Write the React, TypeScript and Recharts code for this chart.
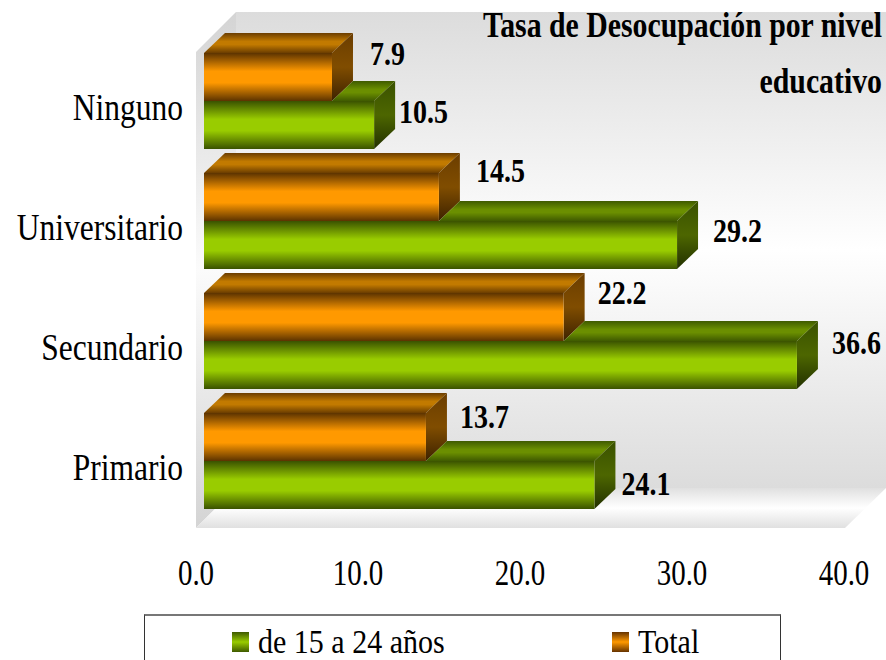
import { BarChart, Bar, XAxis, YAxis, Legend, LabelList } from "recharts";

const categories = ["Ninguno", "Universitario", "Secundario", "Primario"];
const youthValues = [10.5, 29.2, 36.6, 24.1];
const totalValues = [7.9, 14.5, 22.2, 13.7];
const xTicks = [0, 10, 20, 30, 40];
const titleLines = ["Tasa de Desocupación por nivel", "educativo"];
const youthName = "de 15 a 24 años";
const totalName = "Total";

const data = categories.map((name, i) => ({
  name,
  youth: youthValues[i],
  total: totalValues[i],
}));

const serif = "'Liberation Serif', serif";
const depthX = 21;
const depthY = 20;

// label nudges relative to the bar end, the source chart placed them by hand
const youthLabelNudge = [
  [25, -12],
  [36, -13],
  [35, -21],
  [27, 0],
];
const totalLabelNudge = [
  [38, -22],
  [37, -25],
  [34, -23],
  [34, -19],
];

function TallText({ x, y, size, bold, anchor, children }: any) {
  return (
    <text
      transform={`translate(${x},${y}) scale(1,1.22)`}
      textAnchor={anchor}
      fontFamily={serif}
      fontSize={size}
      fontWeight={bold ? 700 : 400}
      fill="#000"
    >
      {children}
    </text>
  );
}

function Box({ x, y, width, height, color, topFrom }: any) {
  const r = x + width;
  const b = y + height;
  const start = topFrom ?? x;
  const backStart = start + depthX;
  return (
    <g>
      <polygon
        points={`${start},${y} ${backStart},${y - depthY} ${r + depthX},${y - depthY} ${r},${y}`}
        fill={`url(#${color}Top)`}
      />
      <polygon
        points={`${r},${y} ${r + depthX},${y - depthY} ${r + depthX},${b - depthY} ${r},${b}`}
        fill={`url(#${color}Side)`}
      />
      <rect x={x} y={y} width={width} height={height} fill={`url(#${color}Front)`} />
    </g>
  );
}

// green is drawn after orange, so its top face starts where the orange bar ends
function YouthBar(props: any) {
  const { x, width, payload } = props;
  return <Box {...props} color="green" topFrom={x + (width * payload.total) / payload.youth} />;
}

function TotalBar(props: any) {
  return <Box {...props} color="orange" />;
}

function valueLabel(nudges: number[][]) {
  return (props: any) => {
    const { x, y, width, height, value, index } = props;
    const [dx, dy] = nudges[index];
    return (
      <TallText x={x + width + dx} y={y + height / 2 + dy + 10} size={28} bold>
        {Number(value).toFixed(1)}
      </TallText>
    );
  };
}

function CategoryTick({ y, payload }: any) {
  return (
    <TallText x={183} y={y + 19} size={31.5} anchor="end">
      {payload.value}
    </TallText>
  );
}

function ValueTick({ x, payload }: any) {
  return (
    <TallText x={x - 8} y={585} size={29} anchor="middle">
      {Number(payload.value).toFixed(1)}
    </TallText>
  );
}

function vertical(id: string, edge: string, mid: string, plateau = 0) {
  return (
    <linearGradient id={id} x1="0" y1="0" x2="0" y2="1">
      <stop offset="0%" stopColor={edge} />
      <stop offset={`${50 - plateau}%`} stopColor={mid} />
      <stop offset={`${50 + plateau}%`} stopColor={mid} />
      <stop offset="100%" stopColor={edge} />
    </linearGradient>
  );
}

function LegendBox({ payload }: any) {
  const order = [youthName, totalName];
  const items = [...(payload ?? [])].sort((a, b) => order.indexOf(a.value) - order.indexOf(b.value));
  return (
    <div
      style={{
        boxSizing: "border-box",
        width: 637,
        height: 60,
        borderTop: "2px solid #777",
        borderLeft: "1px solid #333",
        borderRight: "1px solid #333",
        position: "relative",
      }}
    >
      {items.map((item: any, i: number) => (
        <div
          key={item.value}
          style={{ position: "absolute", left: i === 0 ? 87 : 467, top: 16, height: 20, display: "flex" }}
        >
          <span
            style={{
              width: 17,
              height: 20,
              background:
                i === 0
                  ? "linear-gradient(#3f5a00,#99cc00,#3f5a00)"
                  : "linear-gradient(#663300,#ff9900,#663300)",
            }}
          />
          <span
            style={{
              marginLeft: 9,
              fontFamily: serif,
              fontSize: 30,
              lineHeight: "20px",
              whiteSpace: "nowrap",
              color: "#000",
              display: "inline-block",
              transform: "scaleY(1.12)",
            }}
          >
            {item.value}
          </span>
        </div>
      ))}
    </div>
  );
}

export default function App() {
  return (
    <div style={{ position: "absolute", left: 0, top: 0, width: 886, height: 660, overflow: "hidden", background: "#fff" }}>
      <BarChart
        width={886}
        height={660}
        data={data}
        layout="vertical"
        margin={{ top: 41, right: 34, bottom: 109, left: 0 }}
        barCategoryGap="20%"
        barGap={0}
        barSize={48}
      >
        <defs>
          {vertical("greenFront", "#3a5200", "#99cc00", 12)}
          {vertical("greenTop", "#3f5a00", "#6b8f00", 8)}
          {vertical("orangeFront", "#5c3300", "#ff9900", 12)}
          {vertical("orangeTop", "#6b3d00", "#c27a00", 8)}
          <linearGradient id="greenSide" x1="0" y1="0" x2="0" y2="1">
            <stop offset="0%" stopColor="#3a5200" />
            <stop offset="50%" stopColor="#4d6600" />
            <stop offset="100%" stopColor="#223000" />
          </linearGradient>
          <linearGradient id="orangeSide" x1="0" y1="0" x2="0" y2="1">
            <stop offset="0%" stopColor="#6b3d00" />
            <stop offset="50%" stopColor="#804d00" />
            <stop offset="100%" stopColor="#3d2200" />
          </linearGradient>
          {vertical("backWall", "#dcdcdc", "#ffffff")}
          {vertical("sideWall", "#d4d4d4", "#fbfbfb")}
          {vertical("floor", "#e0e0e0", "#ffffff")}
        </defs>

        <polygon points="236,12 886,12 886,488 236,488" fill="url(#backWall)" />
        <polygon points="196,52 236,12 236,488 196,528" fill="url(#sideWall)" />
        <polygon points="196,528 845,528 886,488 236,488" fill="url(#floor)" />

        <XAxis
          type="number"
          domain={[0, 40]}
          ticks={xTicks}
          interval={0}
          axisLine={false}
          tickLine={false}
          tick={<ValueTick />}
        />
        <YAxis
          type="category"
          dataKey="name"
          width={204}
          interval={0}
          axisLine={false}
          tickLine={false}
          tick={<CategoryTick />}
        />
        <Legend
          layout="horizontal"
          verticalAlign="middle"
          align="center"
          wrapperStyle={{ left: 144, top: 614, width: 637, height: 60 }}
          content={<LegendBox />}
        />
        <Bar dataKey="total" name={totalName} fill="#ff9900" shape={<TotalBar />} isAnimationActive={false}>
          <LabelList dataKey="total" content={valueLabel(totalLabelNudge)} />
        </Bar>
        <Bar dataKey="youth" name={youthName} fill="#99cc00" shape={<YouthBar />} isAnimationActive={false}>
          <LabelList dataKey="youth" content={valueLabel(youthLabelNudge)} />
        </Bar>

        {titleLines.map((line, i) => (
          <TallText key={line} x={882} y={37 + i * 56} size={29.8} bold anchor="end">
            {line}
          </TallText>
        ))}
      </BarChart>
    </div>
  );
}
